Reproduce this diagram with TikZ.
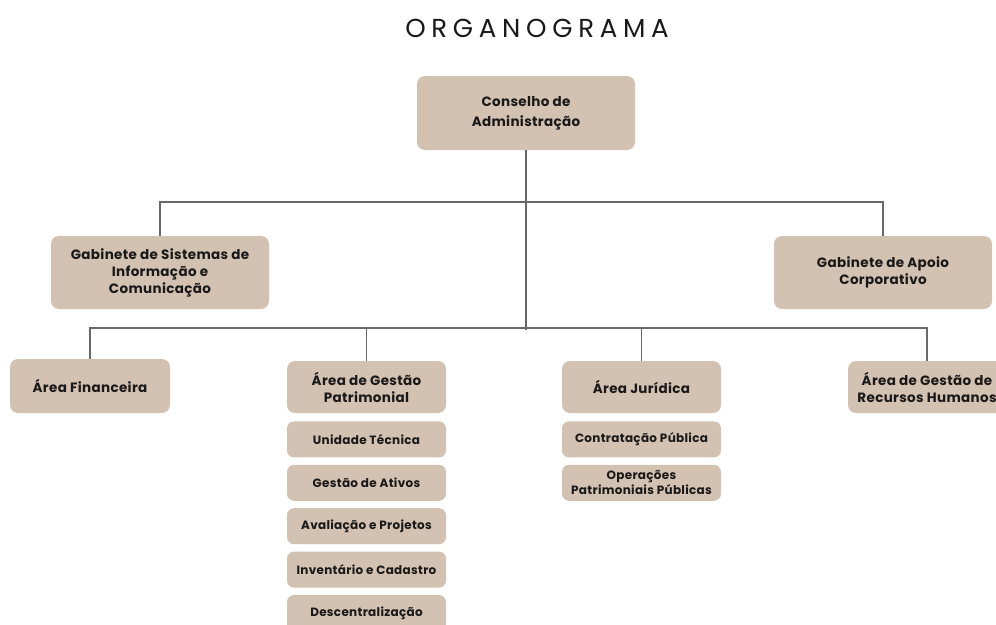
\documentclass[tikz,border=0pt]{standalone}
\usepackage{fontspec}
\setmainfont{Poppins}
\usepackage{xcolor}
\usetikzlibrary{positioning}
\definecolor{boxbeige}{RGB}{211,193,177}
\definecolor{linegray}{RGB}{105,105,105}
\definecolor{inkblack}{RGB}{25,25,25}

\begin{document}
\begin{tikzpicture}[x=1pt,y=1pt,node distance=7pt,
  box/.style={fill=boxbeige,rounded corners=8pt,inner sep=0pt,align=center,
    text=inkblack,font=\bfseries\fontsize{13.5}{17}\selectfont\addfontfeature{LetterSpace=2.5}},
  sub/.style={box,rounded corners=7pt,minimum width=159pt,minimum height=36pt,
    font=\bfseries\fontsize{12}{15}\selectfont\addfontfeature{LetterSpace=2.5}},
  conn/.style={draw=linegray,line width=1.1pt}]
\useasboundingbox (0,0) rectangle (996,-624);
\node[font=\fontsize{26}{28}\selectfont,text=inkblack] (title) at (537,-28)
  {\addfontfeature{LetterSpace=22}ORGANOGRAMA};
% top levels
\node[box,minimum width=218pt,minimum height=74pt,
  font=\bfseries\fontsize{13.5}{20}\selectfont\addfontfeature{LetterSpace=2.5}] (cons) at (526,-113) {Conselho de\\Administração};
\node[box,minimum width=218pt,minimum height=73pt] (gsic) at (160,-272.5) {Gabinete de Sistemas de\\Informação e\\Comunicação};
\node[box,minimum width=218pt,minimum height=73pt] (gap) at (883,-272.5) {Gabinete de Apoio\\Corporativo};
\coordinate (busA) at (0,-202);
\coordinate (busB) at (0,-328);
% areas
\node[box,minimum width=160pt,minimum height=54pt] (afin) at (90,-386) {Área Financeira};
\node[box,minimum width=159pt,minimum height=52pt] (agp) at (366.5,-387) {Área de Gestão\\Patrimonial};
\node[box,minimum width=159pt,minimum height=52pt] (ajur) at (641.5,-387) {Área Jurídica};
\node[box,minimum width=158pt,minimum height=52pt] (arh) at (927,-387) {Área de Gestão de\\Recursos Humanos};
% units
\node[sub,below=8pt of agp] (ut) {Unidade Técnica};
\node[sub,below=of ut] (ga) {Gestão de Ativos};
\node[sub,below=of ga] (avp) {Avaliação e Projetos};
\node[sub,below=of avp] (ic) {Inventário e Cadastro};
\node[sub,below=of ic] (desc) {Descentralização};
\node[sub,below=8pt of ajur] (cp) {Contratação Pública};
\node[sub,below=of cp] (opp) {Operações\\Patrimoniais Públicas};
% lines
\draw[conn] (cons.south) -- ([yshift=-2pt]cons.south |- busB);
\draw[conn] (gsic.north) -- (gsic.north |- busA) -| (gap.north);
\draw[conn] (afin.north) -- (afin.north |- busB) -| (arh.north);
\draw[conn] (agp.north) -- (agp.north |- busB);
\draw[conn] (ajur.north) -- (ajur.north |- busB);
\end{tikzpicture}
\end{document}
